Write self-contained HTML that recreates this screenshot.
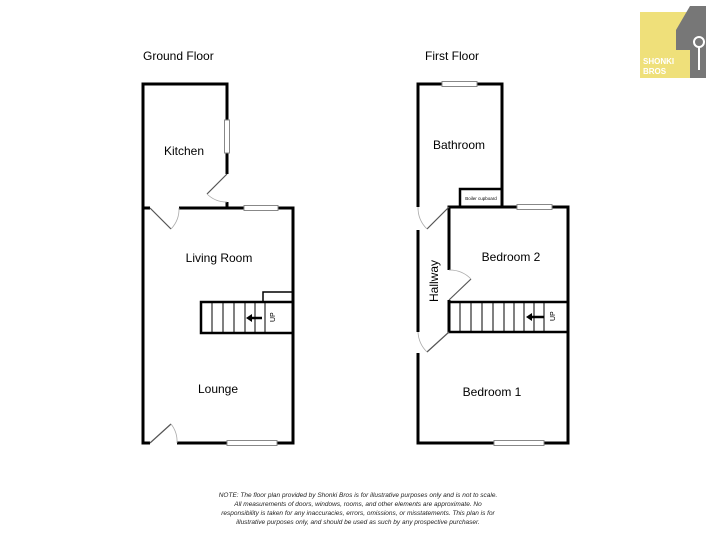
<!DOCTYPE html>
<html><head><style>
body{margin:0;background:#fff;width:717px;height:545px;overflow:hidden;font-family:"Liberation Sans",sans-serif}
</style></head><body>
<svg width="717" height="545" viewBox="0 0 717 545" xmlns="http://www.w3.org/2000/svg" font-family="Liberation Sans, sans-serif">
<rect width="717" height="545" fill="#fff"/>
<!-- logo -->
<rect x="640" y="12" width="50" height="66" fill="#efe07a"/>
<polygon points="690,6 706,6 706,78 690,78 690,50 676,50 676,30" fill="#777"/>
<circle cx="699" cy="42" r="5" fill="none" stroke="#fff" stroke-width="2"/>
<line x1="699" y1="47" x2="699" y2="70" stroke="#fff" stroke-width="2"/>
<text x="643" y="64" font-size="8" font-weight="bold" fill="#fff">SHONKI</text>
<text x="643" y="74" font-size="8" font-weight="bold" fill="#fff">BROS</text>

<text x="143" y="60" font-size="12">Ground Floor</text>
<text x="425" y="60" font-size="12">First Floor</text>

<g fill="none" stroke="#000" stroke-width="3">
<!-- ground floor -->
<polyline points="227,174 227,84 143,84 143,443 150,443"/>
<line x1="227" y1="202" x2="227" y2="208"/>
<polyline points="143,208 150,208"/>
<polyline points="179,208 293,208 293,443 177,443"/>
<rect x="201" y="302" width="92" height="31" stroke-width="2.5"/>
<polyline points="263,302 263,292 293,292" stroke-width="1.5"/>
<!-- first floor -->
<polyline points="418,207 418,84 502,84 502,207"/>
<polyline points="418,230 418,332"/>
<polyline points="418,353 418,443 568,443 568,207 449,207 449,270"/>
<line x1="449" y1="300" x2="449" y2="333"/>
<rect x="460" y="189" width="42" height="18" stroke-width="2.5"/>
<rect x="449" y="302" width="119" height="30" stroke-width="2.5"/>
</g>
<g stroke="#000" stroke-width="1">
<line x1="212" y1="302" x2="212" y2="333"/><line x1="223" y1="302" x2="223" y2="333"/>
<line x1="234" y1="302" x2="234" y2="333"/><line x1="245" y1="302" x2="245" y2="333"/>
<line x1="255" y1="302" x2="255" y2="333"/><line x1="265" y1="302" x2="265" y2="333"/>
<line x1="460" y1="302" x2="460" y2="332"/><line x1="471" y1="302" x2="471" y2="332"/>
<line x1="482" y1="302" x2="482" y2="332"/><line x1="493" y1="302" x2="493" y2="332"/>
<line x1="504" y1="302" x2="504" y2="332"/><line x1="514" y1="302" x2="514" y2="332"/>
<line x1="524" y1="302" x2="524" y2="332"/><line x1="534" y1="302" x2="534" y2="332"/>
<line x1="544" y1="302" x2="544" y2="332"/>
</g>
<!-- arrows -->
<g stroke="#000" stroke-width="2.5"><line x1="251" y1="318" x2="262" y2="318"/><line x1="531" y1="317" x2="544" y2="317"/></g>
<polygon points="246,318 252,314 252,322"/><polygon points="526,317 532,313 532,321"/>
<text x="0" y="0" font-size="7" transform="translate(275,322) rotate(-90)">UP</text>
<text x="0" y="0" font-size="7" transform="translate(555,321) rotate(-90)">UP</text>
<!-- doors -->
<g fill="none" stroke="#555" stroke-width="1.2">
<line x1="227" y1="174" x2="207" y2="194"/>
<path d="M207,194 A28,28 0 0 0 227,202" stroke="#aaa" stroke-width="0.8"/>
<line x1="150" y1="208" x2="171" y2="229"/>
<path d="M171,229 A29,29 0 0 0 179,208" stroke="#aaa" stroke-width="0.8"/>
<line x1="150" y1="443" x2="171" y2="424"/>
<path d="M171,424 A28,28 0 0 1 177,443" stroke="#aaa" stroke-width="0.8"/>
<line x1="449" y1="207" x2="427" y2="229"/>
<path d="M427,229 A30,30 0 0 1 418,207" stroke="#aaa" stroke-width="0.8"/>
<line x1="449" y1="300" x2="471" y2="279"/>
<path d="M471,279 A30,30 0 0 0 449,270" stroke="#aaa" stroke-width="0.8"/>
<line x1="449" y1="332" x2="427" y2="352"/>
<path d="M427,352 A30,30 0 0 1 418,332" stroke="#aaa" stroke-width="0.8"/>
</g>
<!-- windows -->
<g fill="#fff" stroke="#888" stroke-width="1">
<rect x="224.5" y="120" width="5" height="33"/>
<rect x="244" y="205.5" width="34" height="5"/>
<rect x="227" y="440.5" width="50" height="5"/>
<rect x="442" y="81.5" width="35" height="5"/>
<rect x="517" y="204.5" width="35" height="5"/>
<rect x="494" y="440.5" width="50" height="5"/>
</g>
<g font-size="12" text-anchor="middle">
<text x="184" y="155">Kitchen</text>
<text x="219" y="262">Living Room</text>
<text x="218" y="393">Lounge</text>
<text x="459" y="149">Bathroom</text>
<text x="511" y="261">Bedroom 2</text>
<text x="492" y="396">Bedroom 1</text>
<text x="481" y="200" font-size="4.5">Boiler cupboard</text>
<text x="0" y="0" transform="translate(438,281) rotate(-90)">Hallway</text>
</g>
<g font-size="6.5" font-style="italic" text-anchor="middle" fill="#222">
<text x="358" y="497">NOTE: The floor plan provided by Shonki Bros is for illustrative purposes only and is not to scale.</text>
<text x="358" y="506">All measurements of doors, windows, rooms, and other elements are approximate. No</text>
<text x="358" y="515">responsibility is taken for any inaccuracies, errors, omissions, or misstatements. This plan is for</text>
<text x="358" y="524">illustrative purposes only, and should be used as such by any prospective purchaser.</text>
</g>
</svg>
</body></html>
